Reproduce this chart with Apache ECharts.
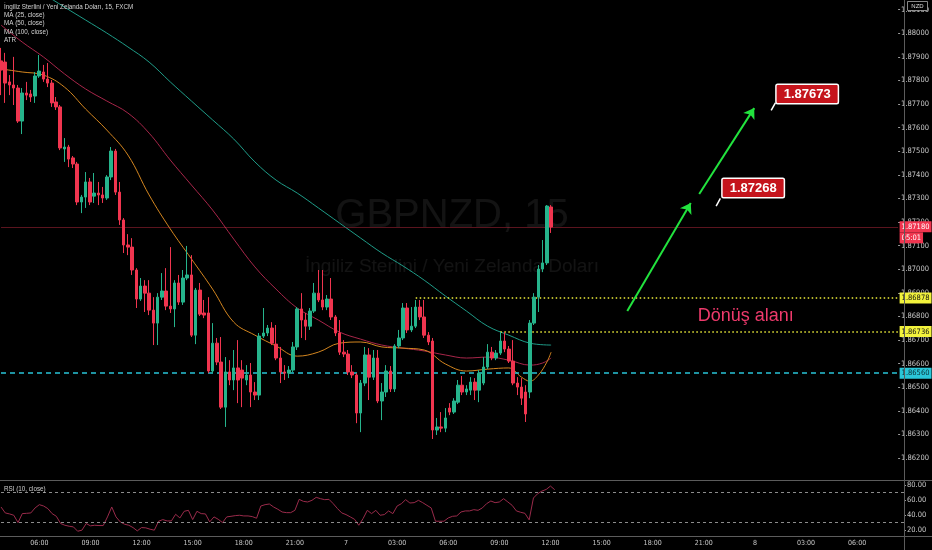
<!DOCTYPE html>
<html><head><meta charset="utf-8">
<script src="https://cdn.jsdelivr.net/npm/echarts@6/dist/echarts.min.js"></script>
<style>html,body{margin:0;padding:0;background:#000;}#c{width:932px;height:550px;}</style>
</head><body><div id="c"></div>
<script>
// ---------- data ----------
const slotCount = 213;            // 15-minute slots, first slot = day 6 03:45
const startMinutes = 225;
const startDay = 6;

// [open, close, low, high]
const candles = [
[1.87883,1.87844,1.87738,1.87938],[1.87878,1.87789,1.87705,1.87917],[1.87794,1.87781,1.87738,1.87823],
[1.87781,1.87768,1.87696,1.87900],[1.87768,1.87628,1.87620,1.87781],[1.87628,1.87747,1.87573,1.87768],
[1.87747,1.87738,1.87717,1.87794],[1.87743,1.87730,1.87709,1.87760],[1.87734,1.87819,1.87705,1.87836],
[1.87819,1.87840,1.87811,1.87908],[1.87836,1.87806,1.87794,1.87866],[1.87806,1.87789,1.87772,1.87874],
[1.87789,1.87705,1.87688,1.87802],[1.87709,1.87688,1.87675,1.87730],[1.87688,1.87514,1.87505,1.87696],
[1.87510,1.87518,1.87455,1.87556],[1.87518,1.87467,1.87433,1.87527],[1.87472,1.87446,1.87429,1.87480],
[1.87446,1.87285,1.87272,1.87455],[1.87285,1.87306,1.87238,1.87315],[1.87306,1.87370,1.87260,1.87412],
[1.87370,1.87285,1.87272,1.87387],[1.87310,1.87323,1.87281,1.87408],[1.87323,1.87315,1.87272,1.87370],
[1.87315,1.87302,1.87281,1.87349],[1.87302,1.87391,1.87294,1.87399],[1.87391,1.87501,1.87378,1.87518],
[1.87501,1.87327,1.87315,1.87510],[1.87327,1.87209,1.87188,1.87370],[1.87209,1.87103,1.87069,1.87217],
[1.87103,1.87094,1.87060,1.87149],[1.87094,1.86997,1.86976,1.87132],[1.86997,1.86874,1.86836,1.87005],
[1.86874,1.86929,1.86866,1.86963],[1.86929,1.86899,1.86819,1.86954],[1.86899,1.86827,1.86806,1.86954],
[1.86827,1.86772,1.86679,1.86882],[1.86772,1.86882,1.86679,1.86899],[1.86882,1.86908,1.86870,1.86984],
[1.86908,1.86844,1.86827,1.87005],[1.86844,1.86832,1.86815,1.87094],[1.86832,1.86942,1.86755,1.86954],
[1.86942,1.86861,1.86849,1.86976],[1.86861,1.86963,1.86849,1.86997],[1.86963,1.86976,1.86954,1.87099],
[1.86976,1.86721,1.86713,1.87060],[1.86721,1.86912,1.86683,1.86921],[1.86912,1.86810,1.86802,1.86942],
[1.86815,1.86806,1.86793,1.86870],[1.86815,1.86569,1.86560,1.86882],[1.86569,1.86687,1.86560,1.86772],
[1.86687,1.86607,1.86594,1.86709],[1.86607,1.86416,1.86408,1.86713],[1.86416,1.86565,1.86332,1.86628],
[1.86565,1.86531,1.86509,1.86615],[1.86531,1.86582,1.86488,1.86658],[1.86582,1.86531,1.86433,1.86700],
[1.86573,1.86539,1.86416,1.86615],[1.86531,1.86552,1.86509,1.86594],[1.86552,1.86480,1.86416,1.86603],
[1.86480,1.86467,1.86446,1.86522],[1.86467,1.86717,1.86446,1.86730],[1.86717,1.86730,1.86709,1.86836],
[1.86730,1.86751,1.86717,1.86764],[1.86751,1.86687,1.86679,1.86776],[1.86683,1.86624,1.86615,1.86764],
[1.86624,1.86565,1.86518,1.86671],[1.86565,1.86560,1.86531,1.86594],[1.86560,1.86573,1.86539,1.86590],
[1.86573,1.86671,1.86565,1.86692],[1.86671,1.86832,1.86658,1.86840],[1.86832,1.86785,1.86709,1.86899],
[1.86785,1.86759,1.86700,1.86815],[1.86759,1.86823,1.86743,1.86836],[1.86823,1.86899,1.86815,1.86942],
[1.86899,1.86870,1.86861,1.86997],[1.86870,1.86840,1.86827,1.86997],[1.86840,1.86874,1.86827,1.86891],
[1.86874,1.86798,1.86785,1.86963],[1.86798,1.86730,1.86717,1.86806],[1.86730,1.86649,1.86637,1.86785],
[1.86649,1.86641,1.86628,1.86700],[1.86641,1.86565,1.86552,1.86658],[1.86565,1.86552,1.86539,1.86594],
[1.86552,1.86391,1.86348,1.86560],[1.86391,1.86518,1.86310,1.86531],[1.86518,1.86637,1.86505,1.86671],
[1.86637,1.86543,1.86446,1.86666],[1.86543,1.86624,1.86531,1.86658],[1.86624,1.86442,1.86433,1.86658],
[1.86442,1.86480,1.86361,1.86518],[1.86480,1.86569,1.86459,1.86594],[1.86569,1.86493,1.86480,1.86590],
[1.86493,1.86675,1.86480,1.86683],[1.86675,1.86709,1.86666,1.86743],[1.86709,1.86836,1.86700,1.86857],
[1.86836,1.86743,1.86730,1.86857],[1.86743,1.86759,1.86734,1.86840],[1.86759,1.86840,1.86751,1.86870],
[1.86840,1.86798,1.86785,1.86870],[1.86798,1.86721,1.86709,1.86870],[1.86721,1.86692,1.86679,1.86734],
[1.86696,1.86319,1.86281,1.86709],[1.86319,1.86332,1.86298,1.86370],[1.86332,1.86327,1.86310,1.86395],
[1.86327,1.86370,1.86310,1.86412],[1.86412,1.86395,1.86382,1.86433],[1.86395,1.86442,1.86387,1.86454],
[1.86437,1.86509,1.86429,1.86531],[1.86509,1.86480,1.86467,1.86548],[1.86480,1.86493,1.86467,1.86509],
[1.86488,1.86522,1.86467,1.86543],[1.86522,1.86488,1.86446,1.86539],[1.86488,1.86560,1.86437,1.86573],
[1.86518,1.86586,1.86509,1.86628],[1.86586,1.86649,1.86577,1.86683],[1.86649,1.86624,1.86615,1.86671],
[1.86624,1.86645,1.86615,1.86658],[1.86645,1.86696,1.86637,1.86734],[1.86696,1.86662,1.86649,1.86734],
[1.86662,1.86611,1.86603,1.86675],[1.86611,1.86518,1.86509,1.86700],[1.86518,1.86501,1.86467,1.86543],
[1.86501,1.86454,1.86425,1.86539],[1.86480,1.86387,1.86353,1.86509],[1.86480,1.86772,1.86454,1.86785],
[1.86772,1.86882,1.86764,1.86899],[1.86882,1.87001,1.86819,1.87018],[1.87001,1.87027,1.86988,1.87124],
[1.87027,1.87268,1.87018,1.87272],[1.87264,1.87179,1.87154,1.87272]
];

const ma25Idx = [0,5,10,15,20,25,30,35,40,45,50,55,60,65,70,75,80,85,90,95,100,105,110,115,120,123,125,127,129,130];
const ma25 = [1.87849,1.87836,1.87823,1.87772,1.87679,1.87590,1.87484,1.87315,1.87171,1.87044,1.86916,1.86776,1.86721,1.86675,1.86632,1.86649,1.86687,1.86692,1.86671,1.86666,1.86658,1.86599,1.86569,1.86577,1.86582,1.86543,1.86526,1.86552,1.86607,1.86649];

const ma50Idx = [0,5,10,15,20,25,30,35,40,45,50,55,60,65,70,75,80,85,90,95,100,105,110,115,120,125,128,130];
const ma50 = [1.88035,1.87963,1.87900,1.87828,1.87764,1.87713,1.87662,1.87577,1.87463,1.87357,1.87251,1.87128,1.87010,1.86916,1.86836,1.86785,1.86734,1.86704,1.86679,1.86666,1.86654,1.86637,1.86624,1.86628,1.86615,1.86594,1.86603,1.86624];

const ma100Idx = [0,5,10,15,20,25,30,35,40,45,50,55,60,65,70,75,80,85,90,95,100,105,110,115,120,125,130];
const ma100 = [1.88281,1.88222,1.88167,1.88111,1.88056,1.88001,1.87942,1.87878,1.87794,1.87713,1.87633,1.87552,1.87455,1.87378,1.87323,1.87260,1.87196,1.87132,1.87069,1.87014,1.86954,1.86887,1.86823,1.86759,1.86721,1.86687,1.86679];

const rsi = [50.9,42.9,41.6,39.8,30.0,42.0,42.4,42.9,49.6,54.0,
52.2,48.7,42.0,38.4,28.7,26.4,25.1,24.2,18.4,19.8,
28.7,25.6,26.4,26.0,26.0,37.6,50.9,37.6,30.9,27.8,
26.4,23.3,18.9,23.3,22.9,21.1,19.8,31.8,34.0,32.2,
32.2,41.1,36.2,45.1,46.4,34.0,45.1,42.0,41.6,30.9,
37.6,34.4,30.0,37.6,38.4,39.3,39.8,38.9,38.9,38.0,
35.8,52.2,54.0,54.9,50.9,47.8,44.2,43.3,43.3,46.4,
61.1,58.4,57.6,59.8,63.8,62.0,60.7,61.1,55.3,48.7,
42.9,40.7,37.6,34.4,26.4,35.3,46.4,42.0,46.4,39.8,
40.7,45.6,42.0,52.2,55.3,60.7,56.2,56.7,59.8,56.7,
53.1,49.6,31.8,31.8,31.8,36.2,38.4,38.9,44.2,45.6,
45.6,47.3,46.4,49.6,55.3,58.9,56.7,57.6,62.0,57.6,
53.1,45.6,43.8,42.4,33.6,62.9,68.7,72.2,74.4,78.9,74.0];

const priceTicks = [1.862,1.863,1.864,1.865,1.866,1.867,1.868,1.869,1.870,1.871,1.872,1.873,1.874,1.875,1.876,1.877,1.878,1.879,1.880,1.881];
const rsiTicks = [20,40,60,80];

const lastPrice = 1.87180, countdown = '05:01';
const zoneTop = 1.86878, zoneBottom = 1.86736, support = 1.86560;
const target1 = 1.87268, target2 = 1.87673;
const legendLines = ['İngiliz Sterlini / Yeni Zelanda Doları, 15, FXCM','MA (25, close)','MA (50, close)','MA (100, close)','ATR'];

// ---------- categories ----------
const categories = [];
for (let i = 0; i < slotCount; i++) {
  const m = startMinutes + 15 * i;
  const day = startDay + Math.floor(m / 1440);
  const mm = m % 1440;
  const hh = String(Math.floor(mm / 60)).padStart(2, '0');
  const mi = String(mm % 60).padStart(2, '0');
  categories.push(day + '|' + hh + ':' + mi);
}
function fmtX(v) {
  const [d, t] = v.split('|');
  return t === '00:00' ? d : t;
}

const NARROW = "'Liberation Sans Narrow','DejaVu Sans Condensed','Liberation Sans',sans-serif";
const SANS = "'Liberation Sans','Noto Sans',Arial,sans-serif";
const UP = '#26b48c', DOWN = '#f0354f';
const AX = '#c9c9c9';

function axisBox(value, bg, fg, text, dy) {
  return {
    coord: [slotCount - 1, value], symbol: 'rect', symbolSize: 1,
    itemStyle: { color: 'rgba(0,0,0,0)' },
    label: { show: true, position: 'right', distance: 1, offset: [0, dy || 0], formatter: text,
      backgroundColor: bg, color: fg, fontSize: 7.5, fontFamily: NARROW, padding: [2, 2, 1, 2], lineHeight: 8 }
  };
}
function callout(idx, value, text, off) {
  return {
    coord: [idx, value], symbol: 'rect', symbolSize: 1, itemStyle: { color: 'rgba(0,0,0,0)' },
    label: { show: true, position: 'inside', offset: off, formatter: text, color: '#fff', fontWeight: 'bold',
      fontSize: 13, fontFamily: SANS, backgroundColor: '#c5141c', borderColor: '#ffffff', borderWidth: 1.5,
      padding: [3, 7, 2, 7], borderRadius: 1 }
  };
}
const arrowStyle = { color: '#22e33e', width: 2, type: 'solid' };

const option = {
  backgroundColor: '#000',
  animation: false,
  grid: [
    { left: 1, right: 28, top: 0, height: 481 },
    { left: 1, right: 28, top: 481, height: 55 }
  ],
  xAxis: [
    { type: 'category', gridIndex: 0, data: categories, boundaryGap: false, show: false },
    { type: 'category', gridIndex: 1, data: categories, boundaryGap: false,
      axisLine: { show: false }, axisTick: { show: false }, splitLine: { show: false },
      axisLabel: { interval: (i) => i >= 9 && (i - 9) % 12 === 0, formatter: fmtX, color: AX,
        fontSize: 7, fontFamily: NARROW, margin: 4 } }
  ],
  yAxis: [
    { type: 'value', gridIndex: 0, position: 'right', min: 1.86103, max: 1.88141,
      axisLine: { show: false }, splitLine: { show: false },
      axisTick: { show: true, length: 2, customValues: priceTicks, lineStyle: { color: '#9a9a9a' } },
      axisLabel: { customValues: priceTicks, formatter: (v) => v.toFixed(5), color: AX, fontSize: 7.5,
        fontFamily: NARROW, margin: 3 } },
    { type: 'value', gridIndex: 1, position: 'right', min: 12, max: 85.7,
      axisLine: { show: false }, splitLine: { show: false },
      axisTick: { show: true, length: 2, customValues: rsiTicks, lineStyle: { color: '#9a9a9a' } },
      axisLabel: { customValues: rsiTicks, formatter: (v) => v.toFixed(2), color: AX, fontSize: 7.5,
        fontFamily: NARROW, margin: 3 } }
  ],
  graphic: [
    { type: 'text', x: 452, y: 216, z: -1, style: { text: 'GBPNZD, 15', fill: 'rgba(255,255,255,0.075)', fontSize: 40, fontFamily: SANS, align: 'center', verticalAlign: 'middle' } },
    { type: 'text', x: 452, y: 267, z: -1, style: { text: 'İngiliz Sterlini / Yeni Zelanda Doları', fill: 'rgba(255,255,255,0.075)', fontSize: 19, fontFamily: SANS, align: 'center', verticalAlign: 'middle' } },
    ...legendLines.map((t, k) => ({ type: 'text', x: 4, y: 7.3 + k * 8.2, z: 50,
      style: { text: t, fill: '#d4d4d4', fontSize: 6.3, fontFamily: SANS, verticalAlign: 'middle' } })),
    { type: 'text', x: 4, y: 489, z: 50, style: { text: 'RSI (10, close)', fill: '#cfcfcf', fontSize: 6.3, fontFamily: SANS, verticalAlign: 'middle' } },
    { type: 'line', z: 40, shape: { x1: 0, y1: 480.5, x2: 932, y2: 480.5 }, style: { stroke: '#5c5c5c', lineWidth: 1 } },
    { type: 'line', z: 40, shape: { x1: 0, y1: 536.5, x2: 932, y2: 536.5 }, style: { stroke: '#5c5c5c', lineWidth: 1 } },
    { type: 'line', z: 40, shape: { x1: 904.5, y1: 0, x2: 904.5, y2: 550 }, style: { stroke: '#5c5c5c', lineWidth: 1 } },
    { type: 'rect', z: 60, shape: { x: 907.5, y: 1.5, width: 20, height: 9 }, style: { fill: '#000', stroke: '#aaaaaa', lineWidth: 0.8 } },
    { type: 'text', z: 61, x: 917.5, y: 6.2, style: { text: 'NZD', fill: '#dddddd', fontSize: 6, fontFamily: SANS, align: 'center', verticalAlign: 'middle' } }
  ],
  series: [
    { type: 'line', name: 'MA100', xAxisIndex: 0, yAxisIndex: 0, data: ma100Idx.map((x, k) => [x, ma100[k]]),
      showSymbol: false, smooth: 0.4, lineStyle: { color: '#1f9c88', width: 1 }, z: 3, silent: true },
    { type: 'line', name: 'MA50', xAxisIndex: 0, yAxisIndex: 0, data: ma50Idx.map((x, k) => [x, ma50[k]]),
      showSymbol: false, smooth: 0.4, lineStyle: { color: '#a8264a', width: 1 }, z: 3, silent: true },
    { type: 'line', name: 'MA25', xAxisIndex: 0, yAxisIndex: 0, data: ma25Idx.map((x, k) => [x, ma25[k]]),
      showSymbol: false, smooth: 0.4, lineStyle: { color: '#d4861f', width: 1 }, z: 3, silent: true },
    { type: 'candlestick', name: 'GBPNZD', xAxisIndex: 0, yAxisIndex: 0, data: candles, barWidth: 3, z: 5,
      itemStyle: { color: UP, color0: DOWN, borderColor: UP, borderColor0: DOWN, borderWidth: 1 },
      markLine: {
        silent: true, animation: false, symbol: 'none', precision: 5,
        label: { show: false },
        data: [
          { yAxis: lastPrice, lineStyle: { color: 'rgba(240,53,79,0.38)', width: 1, type: 'solid' }, label: { show: false } },
          { yAxis: support, lineStyle: { color: '#29c3d6', width: 1.5, type: [5, 4] }, label: { show: false } },
          [{ coord: [98, zoneTop], lineStyle: { color: '#eeee3a', width: 1.5, type: [1.5, 2.5] } }, { coord: [slotCount - 1, zoneTop] }],
          [{ coord: [118, zoneBottom], lineStyle: { color: '#eeee3a', width: 1.5, type: [1.5, 2.5] } }, { coord: [slotCount - 1, zoneBottom] }],
          [{ coord: [148, 1.86823], symbol: 'none', lineStyle: arrowStyle }, { coord: [163, 1.87281], symbol: 'arrow', symbolSize: 10 }],
          [{ coord: [165, 1.87319], symbol: 'none', lineStyle: arrowStyle }, { coord: [178, 1.87683], symbol: 'arrow', symbolSize: 10 }],
          [{ coord: [169, target1], lineStyle: { color: '#ffffff', width: 1.5, type: 'solid' } }, { coord: [170, 1.87300] }],
          [{ coord: [182, target2], lineStyle: { color: '#ffffff', width: 1.5, type: 'solid' } }, { coord: [183, 1.87705] }]
        ]
      },
      markPoint: {
        silent: true, animation: false,
        data: [
          axisBox(lastPrice, '#f0354f', '#ffffff', lastPrice.toFixed(5), 0),
          axisBox(lastPrice, '#f0354f', '#ffffff', countdown, 11),
          axisBox(zoneTop, '#f2f23c', '#111111', zoneTop.toFixed(5), 0),
          axisBox(zoneBottom, '#f2f23c', '#111111', zoneBottom.toFixed(5), 0),
          axisBox(support, '#2ac6d8', '#0a3036', support.toFixed(5), 0),
          callout(169, target1, target1.toFixed(5), [37, -18]),
          callout(182, target2, target2.toFixed(5), [36, -16.5]),
          { coord: [176, 1.86802], symbol: 'rect', symbolSize: 1, itemStyle: { color: 'rgba(0,0,0,0)' },
            label: { show: true, position: 'inside', formatter: 'Dönüş alanı', color: '#ef3a6c', fontSize: 18, fontFamily: SANS } }
        ]
      }
    },
    { type: 'line', name: 'RSI', xAxisIndex: 1, yAxisIndex: 1, data: rsi, showSymbol: false,
      lineStyle: { color: '#9a2b4b', width: 1 }, silent: true,
      markLine: { silent: true, symbol: 'none', label: { show: false },
        lineStyle: { color: '#8c8c8c', width: 1, type: [3, 3] },
        data: [{ yAxis: 70 }, { yAxis: 30 }] } }
  ]
};

const chart = echarts.init(document.getElementById('c'));
chart.setOption(option);
</script></body></html>
